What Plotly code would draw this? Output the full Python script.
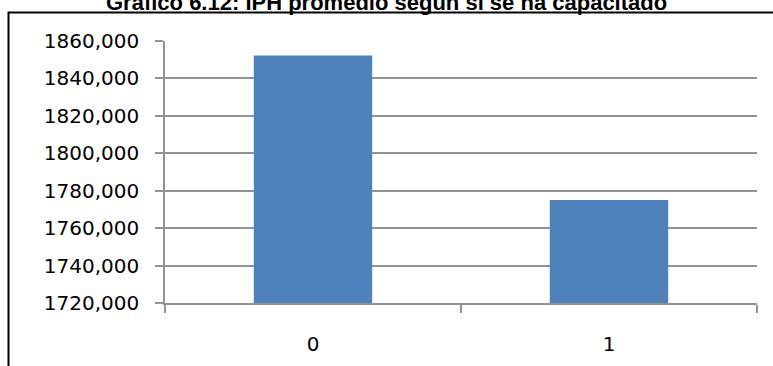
import plotly.graph_objects as go

categories = ["0", "1"]
values = [1852.3, 1775.0]
title_text = "Gráfico 6.12: IPH promedio según si se ha capacitado"

W, H = 773, 366
L, R, T, B = 165, 16, 41, 63
pw, ph = W - L - R, H - T - B

def px(x):
    return (x - L) / pw

def py(y):
    return (H - B - y) / ph

fig = go.Figure(go.Bar(
    x=categories, y=values, width=0.4,
    marker=dict(color="#4f81bd", line=dict(width=0)),
))

fig.update_layout(
    width=W, height=H,
    margin=dict(l=L, r=R, t=T, b=B, autoexpand=False),
    paper_bgcolor="white", plot_bgcolor="white",
    separators=",.",
    showlegend=False,
    font=dict(family="DejaVu Sans", color="black"),
)
fig.update_yaxes(
    range=[1720, 1860], dtick=20, tickformat=".3f",
    showgrid=True, gridcolor="#939393", gridwidth=1.6,
    showline=True, linecolor="#939393", linewidth=1.6,
    ticks="outside", ticklen=8, tickcolor="#939393", tickwidth=1.6,
    tickfont=dict(family="DejaVu Sans", size=20, color="black"),
    ticklabelstandoff=12, zeroline=False, automargin=False,
)
fig.update_xaxes(
    type="category", tickson="boundaries",
    showline=True, linecolor="#939393", linewidth=1.6,
    ticks="outside", ticklen=8, tickcolor="#939393", tickwidth=1.6,
    tickfont=dict(family="DejaVu Sans", size=20, color="black"),
    ticklabelstandoff=22, showgrid=False, automargin=False,
)
fig.add_shape(type="rect", xref="paper", yref="paper",
              x0=px(8.5), x1=px(800), y0=py(400), y1=py(12.5),
              line=dict(color="black", width=2), fillcolor="rgba(0,0,0,0)", layer="above")
fig.add_annotation(text="<b>" + title_text + "</b>", xref="paper", yref="paper",
                   x=px(386), y=py(17), xanchor="center", yanchor="bottom",
                   showarrow=False, font=dict(family="Liberation Sans", size=22, color="black"))

fig.write_html("out.html", config={"displayModeBar": False},
               post_script="document.body.style.margin='0px';")
